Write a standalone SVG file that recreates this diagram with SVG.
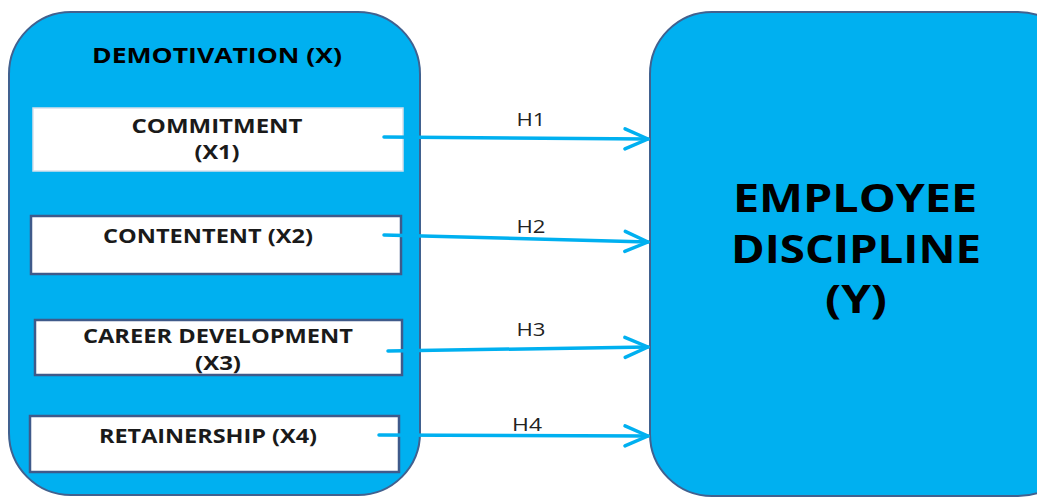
<svg xmlns="http://www.w3.org/2000/svg" width="1037" height="497" viewBox="0 0 1037 497">
<defs>
<style>
.big{fill:#00B0F0;stroke:#41618F;stroke-width:2}
.box{fill:#FFFFFF;stroke:#3F5A8A;stroke-width:2.5}
.t{font-family:"Open Sans","Liberation Sans",sans-serif;font-weight:bold;fill:#000;text-anchor:middle}
.s{font-size:20px;fill:#1a1a1a}
.h{font-family:"Open Sans","Liberation Sans",sans-serif;font-size:18px;fill:#222;text-anchor:middle}
.c{stroke:#00B0F0;stroke-width:3.5;fill:none;stroke-linecap:round;stroke-linejoin:round}
</style>
<marker id="ar" markerUnits="userSpaceOnUse" markerWidth="30" markerHeight="30" refX="26" refY="13" orient="auto" viewBox="0 0 30 26">
<path d="M3,3 L26,13 L3,23" fill="none" stroke="#00B0F0" stroke-width="3.5" stroke-linecap="round" stroke-linejoin="round"/>
</marker>
</defs>
<rect width="1037" height="497" fill="#FFFFFF"/>
<g id="demotivation">
<rect class="big" x="9" y="12" width="411" height="483" rx="62" ry="62"/>
<text class="t" x="217" y="63" font-size="21" textLength="250" lengthAdjust="spacingAndGlyphs">DEMOTIVATION (X)</text>
</g>
<g id="employee-discipline">
<rect class="big" x="650" y="12" width="430" height="484" rx="62" ry="62"/>
<text class="t" x="855" y="212" font-size="40" textLength="244" lengthAdjust="spacingAndGlyphs">EMPLOYEE</text>
<text class="t" x="856" y="263" font-size="40" textLength="250" lengthAdjust="spacingAndGlyphs">DISCIPLINE</text>
<text class="t" x="856" y="313" font-size="40" textLength="62" lengthAdjust="spacingAndGlyphs">(Y)</text>
</g>
<g id="x1">
<rect class="box" x="33" y="108" width="370" height="63" style="stroke:#D8E0EA;stroke-width:1.5"/>
<text class="t s" x="217" y="133" textLength="171" lengthAdjust="spacingAndGlyphs">COMMITMENT</text>
<text class="t s" x="217" y="159" textLength="45" lengthAdjust="spacingAndGlyphs">(X1)</text>
</g>
<g id="x2">
<rect class="box" x="31" y="216" width="370" height="58"/>
<text class="t s" x="208" y="243" textLength="210" lengthAdjust="spacingAndGlyphs">CONTENTENT (X2)</text>
</g>
<g id="x3">
<rect class="box" x="35" y="320" width="367" height="55"/>
<text class="t s" x="218" y="343" textLength="270" lengthAdjust="spacingAndGlyphs">CAREER DEVELOPMENT</text>
<text class="t s" x="218" y="370" textLength="46" lengthAdjust="spacingAndGlyphs">(X3)</text>
</g>
<g id="x4">
<rect class="box" x="30" y="416" width="369" height="56"/>
<text class="t s" x="208" y="443" textLength="218" lengthAdjust="spacingAndGlyphs">RETAINERSHIP (X4)</text>
</g>
<g id="connectors">
<path class="c" d="M384,137 L648,139" marker-end="url(#ar)"/>
<path class="c" d="M384,235 L648,242" marker-end="url(#ar)"/>
<path class="c" d="M388,351 L648,347" marker-end="url(#ar)"/>
<path class="c" d="M379,435 L648,436" marker-end="url(#ar)"/>
<text class="h" x="531" y="126" textLength="29" lengthAdjust="spacingAndGlyphs">H1</text>
<text class="h" x="531" y="233" textLength="29" lengthAdjust="spacingAndGlyphs">H2</text>
<text class="h" x="531" y="336" textLength="29" lengthAdjust="spacingAndGlyphs">H3</text>
<text class="h" x="527" y="431" textLength="30" lengthAdjust="spacingAndGlyphs">H4</text>
</g>
</svg>
